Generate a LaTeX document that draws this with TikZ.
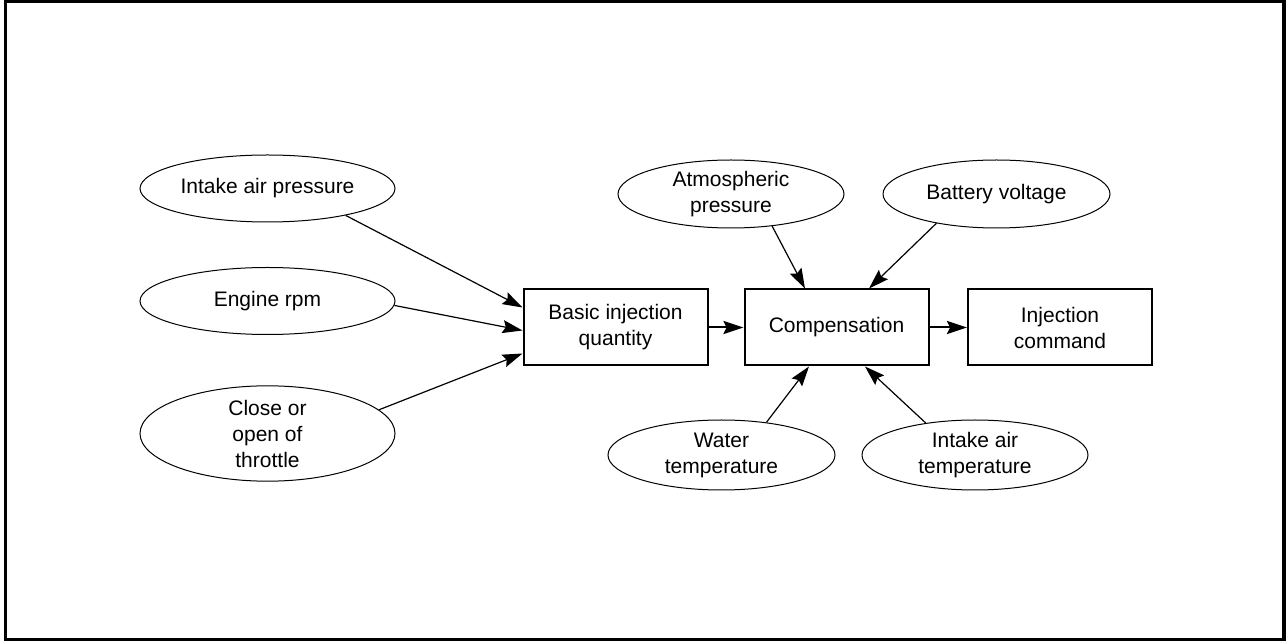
\documentclass[tikz,border=0pt]{standalone}
\usepackage{fontspec}
\setmainfont{Liberation Sans}
\usepackage{tikz}
\usetikzlibrary{arrows.meta,shapes.geometric}

\begin{document}
\begin{tikzpicture}
	[x=0.5pt,y=-0.5pt,>={Stealth[length=10pt,width=6.5pt,inset=1.5pt]},
		font=\fontsize{10.5}{13}\selectfont,
		cause node/.style={ellipse,draw,line width=0.5pt,inner sep=0pt,align=center,minimum width=127.5pt,minimum height=33.5pt},
		step node/.style={rectangle,draw,line width=1pt,align=center,minimum width=92pt,minimum height=38pt},
		feed/.style={->,line width=0.6pt},
		flow/.style={->,line width=1pt}]

	\useasboundingbox (0,0) rectangle (1286,641);
	\draw[line width=1.75pt] (5.5,1.5) rectangle (1284,639.5);

	\node[cause node]  (iap)  at (267.5,188.5)  {Intake air pressure};
	\node[cause node]  (rpm)  at (267.5,301)    {Engine rpm};
	\node[cause node,minimum height=43.5pt]  (thr)  at (267.5,433.5)  {Close or\\open of\\throttle};

	\node[step node]  (basic)  at (615.5,327.5)  {Basic injection\\quantity};
	\node[step node]  (comp)   at (836.5,327.5)  {Compensation};
	\node[step node]  (cmd)    at (1060,327.5)   {Injection\\command};

	\node[cause node,minimum width=113pt,minimum height=34pt]    (atm)  at (731,194)    {Atmospheric\\pressure};
	\node[cause node,minimum width=113.5pt,minimum height=34pt]  (bat)  at (996.5,194)  {Battery voltage};
	\node[cause node,minimum width=113.5pt,minimum height=35pt]  (wat)  at (721.5,455)  {Water\\temperature};
	\node[cause node,minimum width=113pt,minimum height=35pt]    (iat)  at (975,455)    {Intake air\\temperature};

	\path[feed]
	(iap.-19)  edge  ([yshift=10pt]basic.west)
	(rpm.-2)   edge  ([yshift=-1.5pt]basic.west)
	(thr.12)   edge  ([yshift=-13pt]basic.west)

	(atm.-38)  edge  ([xshift=-15.75pt]comp.north)
	(bat.-154) edge  ([xshift=16.25pt]comp.north)
	(wat.36)   edge  ([xshift=-13.75pt]comp.south)
	(iat.147)  edge  ([xshift=14.25pt]comp.south)
	;

	\path[flow]
	(basic) edge  (comp)
	(comp)  edge  (cmd)
	;

\end{tikzpicture}
\end{document}
